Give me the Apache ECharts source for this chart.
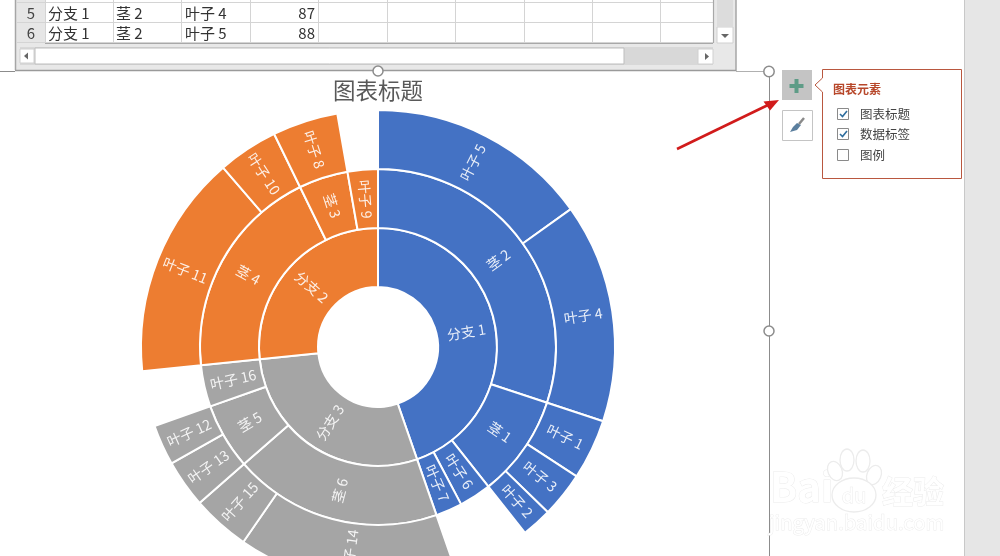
<!DOCTYPE html>
<html><head><meta charset="utf-8">
<style>html,body{margin:0;padding:0;background:#fff}#c{width:1000px;height:556px}</style>
<script src="https://cdn.jsdelivr.net/npm/echarts@6/dist/echarts.min.js"></script>
</head><body><div id="c"></div>
<script>
const chartTitle = '图表标题';
const branchNames = ['分支 1', '分支 3', '分支 2'];
const branchColors = ['#4472C4', '#A5A5A5', '#ED7D31'];
// one entry per leaf, clockwise from 12 o'clock; stem null = leaf hangs directly on its branch
const leafBranch = [0,0,0,0,0,0,0, 1,1,1,1,1, 2,2,2,2];
const leafStem = ['茎 2','茎 2','茎 1','茎 1','茎 1',null,null, '茎 6','茎 6','茎 5','茎 5',null, '茎 4','茎 4','茎 3',null];
const leafNames = ['叶子 5','叶子 4','叶子 1','叶子 3','叶子 2','叶子 6','叶子 7', '叶子 14','叶子 15','叶子 13','叶子 12','叶子 16', '叶子 11','叶子 10','叶子 8','叶子 9'];
const leafValues = [88,87,24,18,12,17,14, 87,23,19,16,22, 89,24,26,16];
const tableRows = [['5','分支 1','茎 2','叶子 4','87'],['6','分支 1','茎 2','叶子 5','88']];
const popupTitle = '图表元素';
const popupItems = ['图表标题','数据标签','图例'];
const popupChecked = [true,true,false];

function buildTree(){
  return branchNames.map((bn,b)=>{
    const itemStyle={color:branchColors[b]};
    const node={name:bn,itemStyle,children:[]};
    let last=null;
    leafNames.forEach((ln,i)=>{
      if(leafBranch[i]!==b) return;
      const stem=leafStem[i];
      const leaf={name:ln,value:leafValues[i],itemStyle};
      if(!stem){node.children.push(leaf);last=null;return;}
      if(!last||last.name!==stem){last={name:stem,itemStyle,children:[]};node.children.push(last);}
      last.children.push(leaf);
    });
    return node;
  });
}

const F='"Noto Sans CJK SC","Noto Sans",sans-serif';
const g=[];
const rect=(x,y,w,h,fill,stroke,lw)=>g.push({type:'rect',silent:true,shape:{x,y,width:w,height:h},style:{fill:fill||'none',stroke:stroke||'none',lineWidth:lw||1}});
const line=(x1,y1,x2,y2,stroke,lw)=>g.push({type:'line',silent:true,shape:{x1,y1,x2,y2},style:{stroke,lineWidth:lw||1}});
const text=(t,x,y,size,fill,align,weight,stroke)=>g.push({type:'text',silent:true,x,y,style:{text:t,fill,stroke:stroke||undefined,lineWidth:stroke?1:0,font:(weight||'normal')+' '+size+'px '+F,align:align||'left',verticalAlign:'middle',textAlign:align||'left',textVerticalAlign:'middle'}});
const circ=(cx,cy,r,fill,stroke,lw)=>g.push({type:'circle',silent:true,shape:{cx,cy,r},style:{fill,stroke,lineWidth:lw||1.5}});
const ell=(cx,cy,rx,ry,rot)=>g.push({type:'ellipse',silent:true,x:cx,y:cy,rotation:rot||0,shape:{cx:0,cy:0,rx,ry},style:{fill:'#fff',stroke:'#ececec',lineWidth:1.3}});
const poly=(pts,fill,stroke,lw)=>g.push({type:'polygon',silent:true,shape:{points:pts},style:{fill:fill||'none',stroke:stroke||'none',lineWidth:lw||1}});

// right panel
rect(964,0,36,556,'#E6E6E6');
line(964.5,0,964.5,556,'#c8c8c8',1);
// spreadsheet window
rect(15,0,721,70,'#E8E8E8');
line(15.5,0,15.5,70,'#a6a6a6',1.5);
line(736,0,736,71,'#a6a6a6',1.5);
rect(17,0,28,43,'#E6E6E6');
rect(45,0,668,43,'#fff');
[3,23,43].forEach(y=>line(17,y-0.5,713,y-0.5,'#d4d4d4',1));
[45,113,181,250,318,387,455,524,592,660,713].forEach(x=>line(x+0.5,0,x+0.5,43,'#d4d4d4',1));
line(45,43.5,713,43.5,'#a8a8a8',1.2);
line(713.5,0,713.5,43,'#a8a8a8',1.2);
tableRows.forEach((r,i)=>{
  const y=13.5+i*20;
  text(r[0],31,y,15,'#444','center');
  text(r[1],48,y,15,'#333');
  text(r[2],116,y,15,'#333');
  text(r[3],185,y,15,'#333');
  text(r[4],315,y,15,'#333','right');
});
// scrollbars
rect(20,47,693,18,'#d8d8d8');
rect(35,48,589,16,'#fff','#bdbdbd',1);
rect(20,49,14,14,'#fff','#d0d0d0',1);
poly([[24,56],[28,52.5],[28,59.5]],'#666');
rect(698,49,15,15,'#fff','#d0d0d0',1);
poly([[709,56.5],[705,53],[705,60]],'#666');
rect(717,27,16,16,'#fff','#d0d0d0',1);
poly([[721,34],[729,34],[725,38]],'#666');
rect(717,0,16,27,'#dcdcdc');
// chart frame
line(0,71.5,15,71.5,'#8c8c8c',1);
line(15,70.5,736,70.5,'#9a9a9a',1.5);
line(736,71.5,769,71.5,'#b0b0b0',1);
line(769.5,71,769.5,556,'#8c8c8c',1);
circ(378,71,5,'#fff','#8c8c8c');
circ(769,71.5,5.2,'#fff','#8c8c8c');
circ(769,331,5,'#fff','#8c8c8c');
// side buttons
rect(782,70,30,30,'#C4C4C4');
rect(794.5,79,4,14,'#5E9C87');rect(789.5,84,14,4,'#5E9C87');
rect(782.5,110.5,30,30,'#fff','#c4c4c4',1);
poly([[801,125],[797,130],[790,132],[793,127],[797,123]],'#5b7f9e');
line(799,124,804,118,'#8a8a8a',2.5);
// popup
poly([[822.5,69.5],[961.5,69.5],[961.5,178.5],[822.5,178.5],[822.5,92],[815,85],[822.5,78]],'#fff','#B9573F',1);
text(popupTitle,833,89.5,12,'#B7472A','left','bold');
popupItems.forEach((t,i)=>{
  const y=[114,134,155][i];
  rect(837.5,y-5.5,11,11,'#fff','#8a8a8a',1);
  if(popupChecked[i]) g.push({type:'polyline',silent:true,shape:{points:[[840,y],[842.5,y+2.5],[847,y-3]]},style:{fill:'none',stroke:'#2F6E9E',lineWidth:1.6}});
  text(t,860,y,12.5,'#444');
});
// red arrow
line(677,149,768,105,'#D11B1B',2.6);
poly([[779,100],[763.5,101.5],[770,110.5]],'#D11B1B');
// watermark
const W='#fff',S='#ececec';
text('Bai',770,487,40,W,'left','bold',S);
ell(847,460,7,11);ell(863,461,7,11);ell(835,471,7,10,0.4);ell(874,475,7,10,-0.4);ell(854,495,22,17);
text('du',854,495,20,W,'center','normal',S);
text('经验',882,491,31,W,'left','bold',S);
text('jingyan.baidu.com',769,522,20.3,W,'left','normal',S);

const chart=echarts.init(document.getElementById('c'),null,{renderer:'canvas'});
chart.setOption({
  animation:false,
  backgroundColor:'#fff',
  title:{text:chartTitle,left:328,top:74,textStyle:{color:'#595959',fontSize:22.5,fontWeight:'normal',fontFamily:F}},
  graphic:g,
  series:[{
    type:'sunburst',sort:null,nodeClick:false,
    center:[378,347],radius:[60,237],startAngle:90,
    data:buildTree(),
    emphasis:{focus:'none'},
    itemStyle:{borderColor:'#fff',borderWidth:2},
    label:{rotate:'radial',color:'rgba(255,255,255,0.88)',fontSize:14,fontFamily:F,position:'inside',minAngle:0}
  }]
});
</script></body></html>
